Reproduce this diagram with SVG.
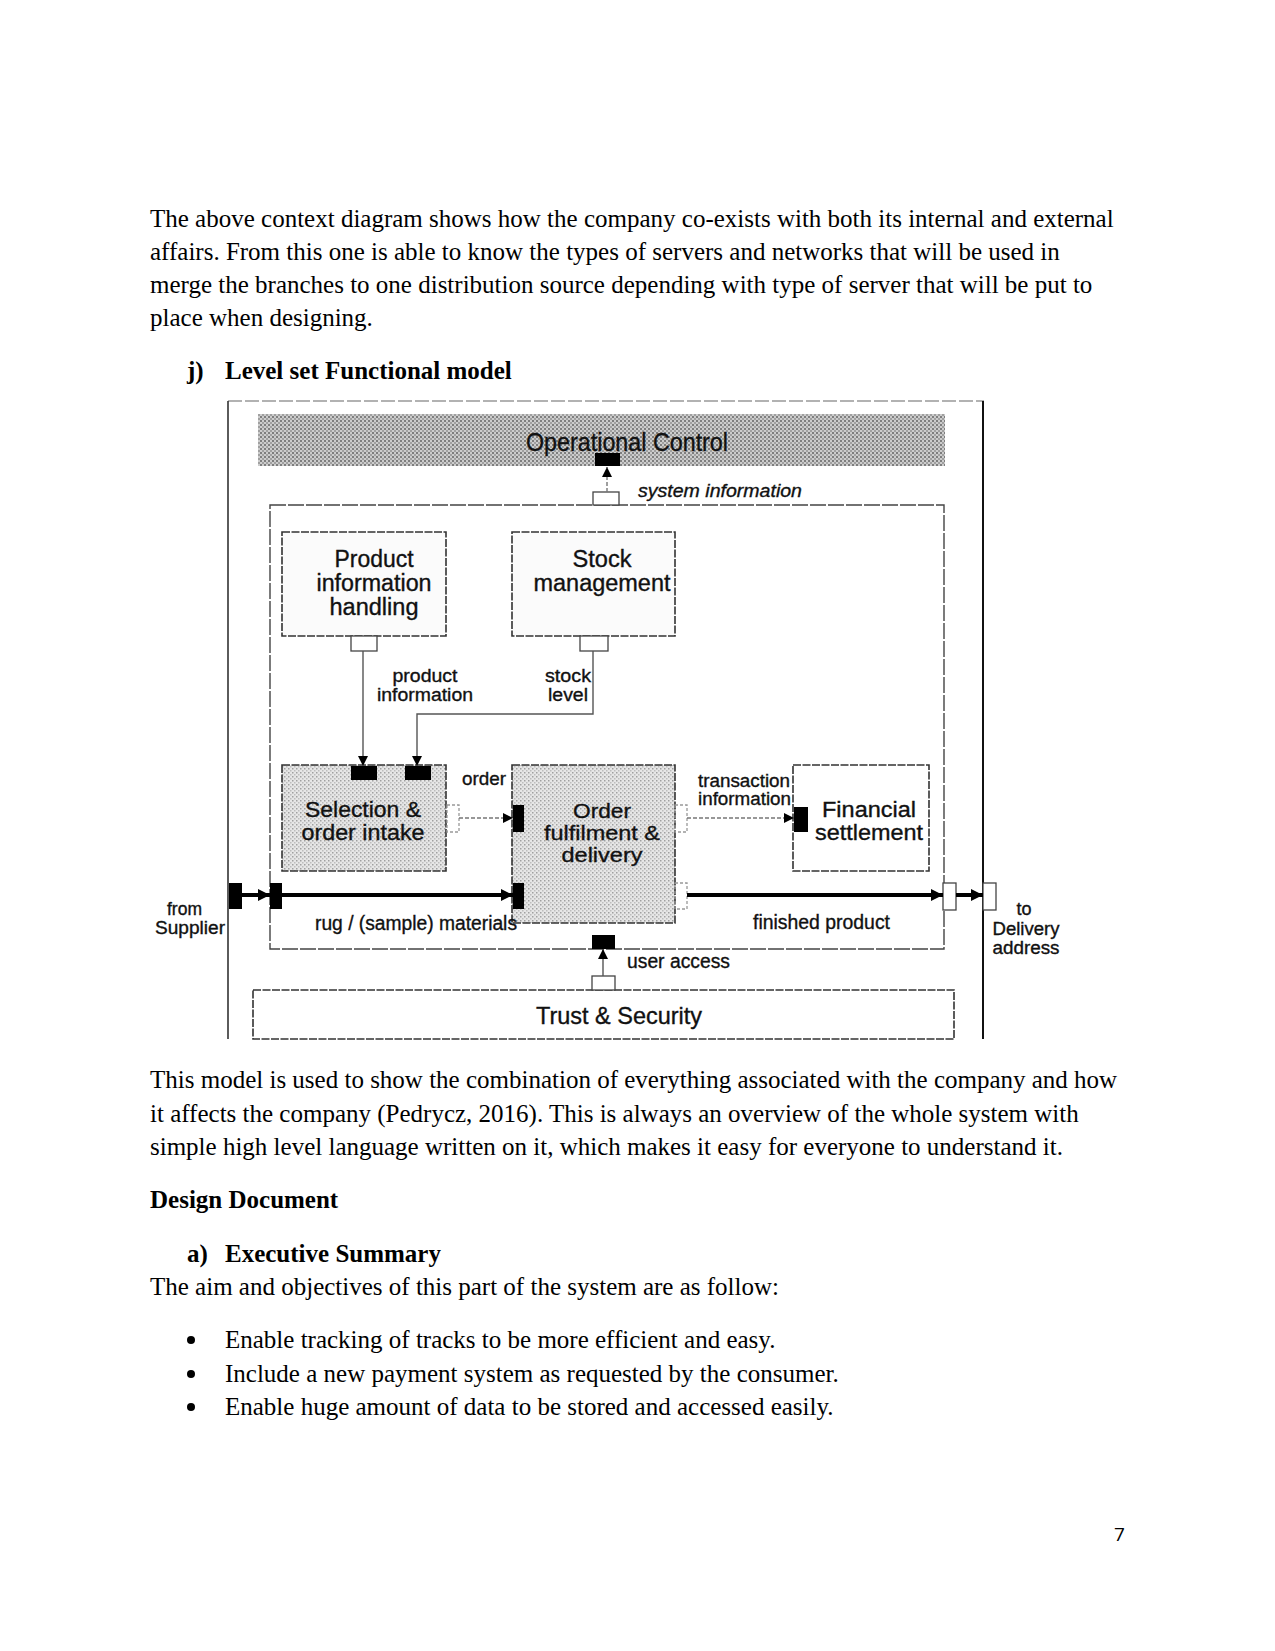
<svg xmlns="http://www.w3.org/2000/svg" width="1275" height="1651" viewBox="0 0 1275 1651">
<style>
.body{font-family:"Liberation Serif","Times New Roman",serif;font-size:25px;fill:#000}
.bold{font-weight:bold}
.lab{font-family:"Liberation Sans",Arial,sans-serif;fill:#111;stroke:#111;stroke-width:0.35}
.box{stroke:#333;stroke-width:1.6;stroke-dasharray:8 1.5}
.frame{fill:none;stroke:#444;stroke-width:1.4;stroke-dasharray:16 2}
.thin{fill:none;stroke:#555;stroke-width:1.4}
.dash{fill:none;stroke:#777;stroke-width:1.4;stroke-dasharray:4 2}
.thick{fill:none;stroke:#000;stroke-width:4}
.bport{fill:#000}
.wport{fill:#fff;stroke:#444;stroke-width:1.3}
.oport{fill:none;stroke:#999;stroke-width:1.3;stroke-dasharray:3 2}
</style>
<defs>
<pattern id="patDark" width="4" height="4" patternUnits="userSpaceOnUse">
<rect width="4" height="4" fill="#cccccc"/>
<rect x="0" y="0" width="2" height="2" fill="#7e7e7e"/>
<rect x="2" y="2" width="2" height="2" fill="#a0a0a0"/>
</pattern>
<pattern id="patLight" width="4" height="4" patternUnits="userSpaceOnUse">
<rect width="4" height="4" fill="#e6e6e6"/>
<rect x="0" y="0" width="1.5" height="1.5" fill="#a0a0a0"/>
<rect x="2" y="2" width="1.5" height="1.5" fill="#bdbdbd"/>
</pattern>
<marker id="ah" markerUnits="userSpaceOnUse" markerWidth="12" markerHeight="12" viewBox="0 0 10 10" refX="10" refY="5" orient="auto">
<path d="M0,0 L10,5 L0,10 z" fill="#000"/>
</marker>
<marker id="ahs" markerUnits="userSpaceOnUse" markerWidth="10" markerHeight="10" viewBox="0 0 10 10" refX="10" refY="5" orient="auto">
<path d="M0,0 L10,5 L0,10 z" fill="#000"/>
</marker>
</defs>
<rect width="1275" height="1651" fill="#fff"/>

<g id="text-top">
<text class="body" x="150" y="227">The above context diagram shows how the company co-exists with both its internal and external</text>
<text class="body" x="150" y="260">affairs. From this one is able to know the types of servers and networks that will be used in</text>
<text class="body" x="150" y="293">merge the branches to one distribution source depending with type of server that will be put to</text>
<text class="body" x="150" y="326">place when designing.</text>
<text class="body bold" x="187" y="379">j)</text>
<text class="body bold" x="225" y="379">Level set Functional model</text>
</g>

<g id="outer-frame">
<line x1="228" y1="401" x2="984" y2="401" stroke="#999" stroke-width="1.4" stroke-dasharray="14 3"/>
<line x1="228" y1="401" x2="228" y2="1039" stroke="#333" stroke-width="1.6"/>
<line x1="983" y1="401" x2="983" y2="1039" stroke="#111" stroke-width="2"/>
</g>

<g id="operational-control">
<rect x="258" y="414" width="687" height="52" fill="url(#patDark)"/>
<text class="lab" x="627" y="451" font-size="25" text-anchor="middle" textLength="202" lengthAdjust="spacingAndGlyphs">Operational Control</text>
</g>

<g id="inner-frame">
<rect class="frame" x="270" y="505" width="674" height="444"/>
</g>

<g id="product-information-handling">
<rect class="box" x="282" y="532" width="164" height="104" fill="#fbfbfb"/>
<text class="lab" x="374" y="567" font-size="23" text-anchor="middle" textLength="79" lengthAdjust="spacingAndGlyphs">Product</text>
<text class="lab" x="374" y="591" font-size="23" text-anchor="middle" textLength="115" lengthAdjust="spacingAndGlyphs">information</text>
<text class="lab" x="374" y="615" font-size="23" text-anchor="middle" textLength="89" lengthAdjust="spacingAndGlyphs">handling</text>
</g>

<g id="stock-management">
<rect class="box" x="512" y="532" width="163" height="104" fill="#fbfbfb"/>
<text class="lab" x="602" y="567" font-size="23" text-anchor="middle" textLength="59" lengthAdjust="spacingAndGlyphs">Stock</text>
<text class="lab" x="602" y="591" font-size="23" text-anchor="middle" textLength="137" lengthAdjust="spacingAndGlyphs">management</text>
</g>

<g id="selection-order-intake">
<rect class="box" x="282" y="765" width="164" height="106" fill="url(#patLight)"/>
<text class="lab" x="363" y="817" font-size="22" text-anchor="middle" textLength="116" lengthAdjust="spacingAndGlyphs">Selection &amp;</text>
<text class="lab" x="363" y="840" font-size="22" text-anchor="middle" textLength="123" lengthAdjust="spacingAndGlyphs">order intake</text>
</g>

<g id="order-fulfilment-delivery">
<rect class="box" x="512" y="765" width="163" height="158" fill="url(#patLight)"/>
<text class="lab" x="602" y="818" font-size="21" text-anchor="middle" textLength="58" lengthAdjust="spacingAndGlyphs">Order</text>
<text class="lab" x="602" y="840" font-size="21" text-anchor="middle" textLength="116" lengthAdjust="spacingAndGlyphs">fulfilment &amp;</text>
<text class="lab" x="602" y="862" font-size="21" text-anchor="middle" textLength="81" lengthAdjust="spacingAndGlyphs">delivery</text>
</g>

<g id="financial-settlement">
<rect class="box" x="793" y="765" width="136" height="106" fill="#fff"/>
<text class="lab" x="869" y="817" font-size="22" text-anchor="middle" textLength="94" lengthAdjust="spacingAndGlyphs">Financial</text>
<text class="lab" x="869" y="840" font-size="22" text-anchor="middle" textLength="108" lengthAdjust="spacingAndGlyphs">settlement</text>
</g>

<g id="trust-security">
<rect class="box" x="253" y="990" width="701" height="49" fill="#fff" stroke-dasharray="12 3"/>
<text class="lab" x="619" y="1024" font-size="24" text-anchor="middle" textLength="166" lengthAdjust="spacingAndGlyphs">Trust &amp; Security</text>
</g>

<g id="ports">
<rect class="bport" x="595" y="453" width="25" height="13"/>
<rect class="wport" x="593" y="492" width="26" height="13"/>
<rect class="wport" x="351" y="636" width="26" height="15"/>
<rect class="wport" x="580" y="636" width="28" height="15"/>
<rect class="bport" x="351" y="766" width="26" height="14"/>
<rect class="bport" x="405" y="766" width="26" height="14"/>
<rect class="oport" x="447" y="805" width="12" height="27"/>
<rect class="bport" x="513" y="805" width="11" height="27"/>
<rect class="oport" x="675" y="805" width="12" height="27"/>
<rect class="bport" x="794" y="807" width="14" height="25"/>
<rect class="bport" x="229" y="883" width="13" height="26"/>
<rect class="bport" x="270" y="883" width="12" height="26"/>
<rect class="bport" x="513" y="883" width="11" height="26"/>
<rect class="oport" x="675" y="883" width="12" height="26"/>
<rect class="wport" x="943" y="883" width="13" height="27"/>
<rect class="wport" x="983" y="883" width="13" height="27"/>
<rect class="bport" x="592" y="935" width="23" height="14"/>
<rect class="wport" x="592" y="976" width="23" height="14"/>
</g>

<g id="connectors">
<line class="dash" x1="607" y1="492" x2="607" y2="467" marker-end="url(#ahs)"/>
<line class="thin" x1="363" y1="651" x2="363" y2="766" marker-end="url(#ahs)"/>
<polyline class="thin" points="593,651 593,714 417,714 417,766" marker-end="url(#ahs)"/>
<line class="dash" x1="459" y1="818" x2="513" y2="818" marker-end="url(#ahs)"/>
<line class="dash" x1="687" y1="818" x2="794" y2="818" marker-end="url(#ahs)"/>
<line class="thick" x1="242" y1="895" x2="270" y2="895" marker-end="url(#ah)"/>
<line class="thick" x1="282" y1="895" x2="513" y2="895" marker-end="url(#ah)"/>
<line class="thick" x1="687" y1="895" x2="943" y2="895" marker-end="url(#ah)"/>
<line class="thick" x1="956" y1="895" x2="983" y2="895" marker-end="url(#ah)"/>
<line class="thin" x1="603" y1="976" x2="603" y2="949" marker-end="url(#ahs)"/>
</g>

<g id="labels">
<text class="lab" x="638" y="497" font-size="19" font-style="italic" textLength="164" lengthAdjust="spacingAndGlyphs">system information</text>
<text class="lab" x="425" y="682" font-size="18" text-anchor="middle" textLength="65" lengthAdjust="spacingAndGlyphs">product</text>
<text class="lab" x="425" y="701" font-size="18" text-anchor="middle" textLength="96" lengthAdjust="spacingAndGlyphs">information</text>
<text class="lab" x="568" y="682" font-size="18" text-anchor="middle" textLength="46" lengthAdjust="spacingAndGlyphs">stock</text>
<text class="lab" x="568" y="701" font-size="18" text-anchor="middle" textLength="40" lengthAdjust="spacingAndGlyphs">level</text>
<text class="lab" x="462" y="785" font-size="19" textLength="44" lengthAdjust="spacingAndGlyphs">order</text>
<text class="lab" x="698" y="787" font-size="18" textLength="92" lengthAdjust="spacingAndGlyphs">transaction</text>
<text class="lab" x="698" y="805" font-size="18" textLength="93" lengthAdjust="spacingAndGlyphs">information</text>
<text class="lab" x="202" y="915" font-size="18" text-anchor="end" textLength="35" lengthAdjust="spacingAndGlyphs">from</text>
<text class="lab" x="225" y="934" font-size="18" text-anchor="end" textLength="70" lengthAdjust="spacingAndGlyphs">Supplier</text>
<text class="lab" x="315" y="930" font-size="20" textLength="202" lengthAdjust="spacingAndGlyphs">rug / (sample) materials</text>
<text class="lab" x="753" y="929" font-size="20" textLength="137" lengthAdjust="spacingAndGlyphs">finished product</text>
<text class="lab" x="627" y="968" font-size="20" textLength="103" lengthAdjust="spacingAndGlyphs">user access</text>
<text class="lab" x="1024" y="915" font-size="18" text-anchor="middle">to</text>
<text class="lab" x="1026" y="935" font-size="18" text-anchor="middle" textLength="67" lengthAdjust="spacingAndGlyphs">Delivery</text>
<text class="lab" x="1026" y="954" font-size="18" text-anchor="middle" textLength="67" lengthAdjust="spacingAndGlyphs">address</text>
</g>

<g id="text-bottom">
<text class="body" x="150" y="1088">This model is used to show the combination of everything associated with the company and how</text>
<text class="body" x="150" y="1122">it affects the company (Pedrycz, 2016). This is always an overview of the whole system with</text>
<text class="body" x="150" y="1155">simple high level language written on it, which makes it easy for everyone to understand it.</text>
<text class="body bold" x="150" y="1208">Design Document</text>
<text class="body bold" x="187" y="1262">a)</text>
<text class="body bold" x="225" y="1262">Executive Summary</text>
<text class="body" x="150" y="1295">The aim and objectives of this part of the system are as follow:</text>
<circle cx="191" cy="1340" r="4"/>
<text class="body" x="225" y="1348">Enable tracking of tracks to be more efficient and easy.</text>
<circle cx="191" cy="1374" r="4"/>
<text class="body" x="225" y="1382">Include a new payment system as requested by the consumer.</text>
<circle cx="191" cy="1407" r="4"/>
<text class="body" x="225" y="1415">Enable huge amount of data to be stored and accessed easily.</text>
<text x="1114" y="1541" font-family="'Open Sans','Liberation Sans',sans-serif" font-size="19">7</text>
</g>
</svg>
